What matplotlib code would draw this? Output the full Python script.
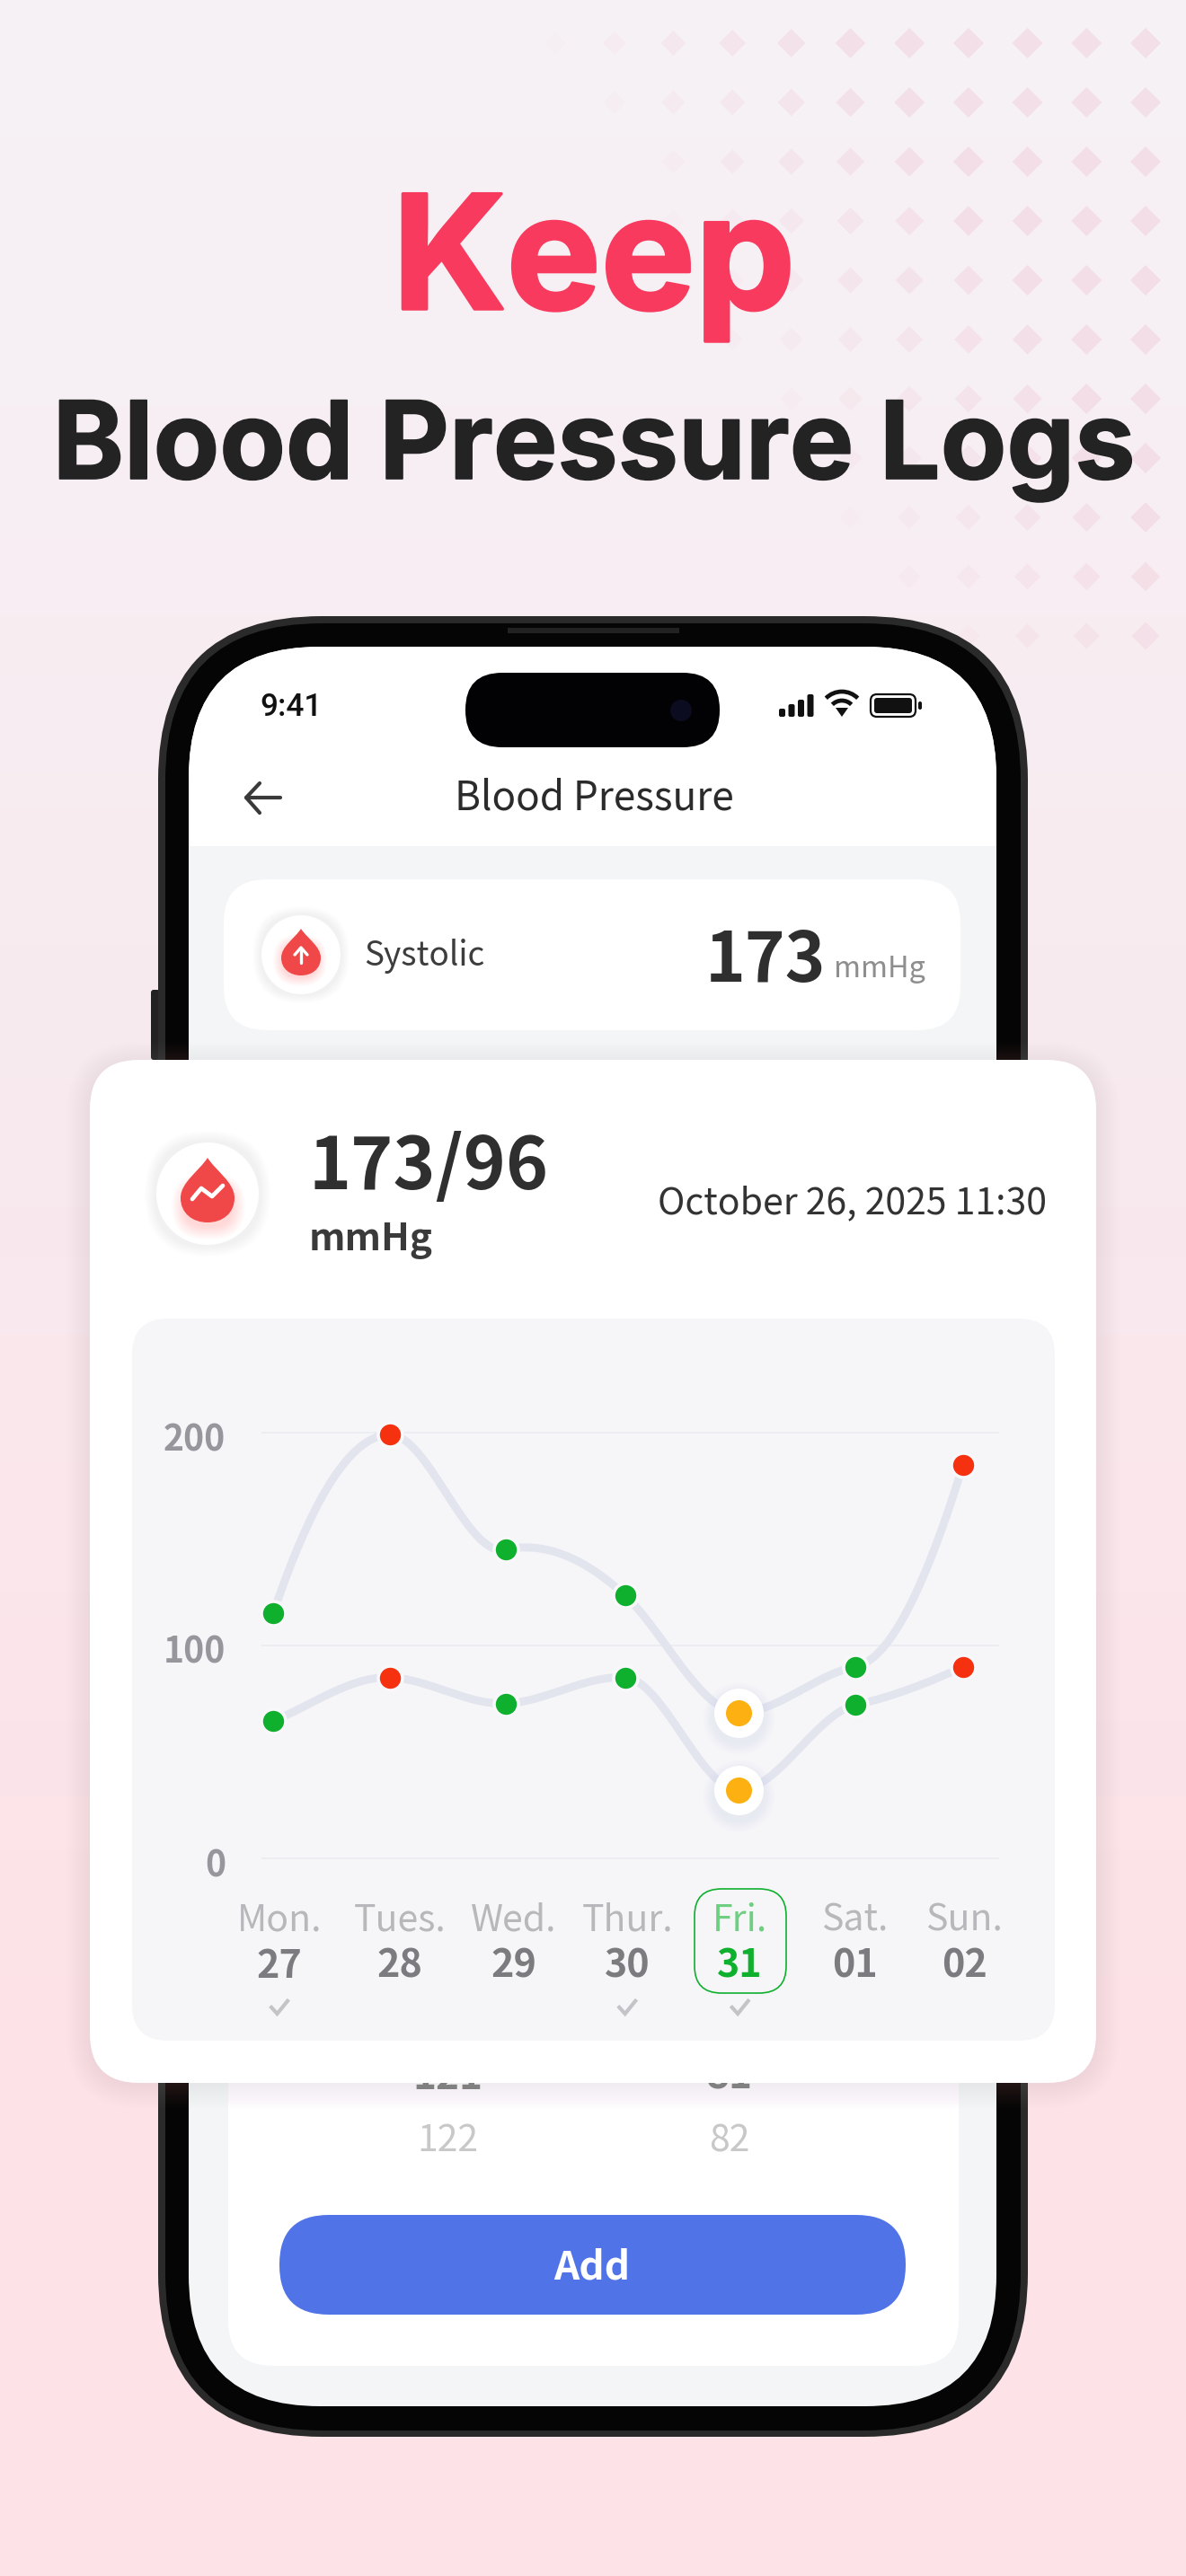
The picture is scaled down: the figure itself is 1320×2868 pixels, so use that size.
import numpy as np
import matplotlib
matplotlib.use('Agg')
import matplotlib.pyplot as plt
from matplotlib.patches import FancyBboxPatch, Circle, PathPatch, Polygon, Rectangle, Arc
from matplotlib.path import Path
from matplotlib.transforms import ScaledTranslation
import matplotlib.patheffects as pe

# Chart data
day_names = ['Mon.', 'Tues.', 'Wed.', 'Thur.', 'Fri.', 'Sat.', 'Sun.']
day_numbers = ['27', '28', '29', '30', '31', '01', '02']
checked_days = ['27', '30', '31']
point_x = [0, 1.016, 2.02, 3.06, 4.05, 5.06, 6]
systolic = [115, 199, 145, 123.5, 68.5, 90, 185]
diastolic = [64.5, 85, 72.7, 85, 32, 72, 90]
systolic_colors = ['green', 'red', 'green', 'green', 'orange', 'green', 'red']
diastolic_colors = ['green', 'red', 'green', 'green', 'orange', 'green', 'red']
# slope of the curve as it passes each point
systolic_slopes = [160, 0, 12, -50, 0, 10, 175]
diastolic_slopes = [22, -2, 2, -3, 0, 12, 25]
y_ticks = [0, 100, 200]

colors = {'green': '#0fb02d', 'red': '#f5310f', 'orange': '#fdb012'}
W, H = 1320, 2868
CJK = ['Noto Sans CJK SC', 'DejaVu Sans']
TITLE = ['Inter', 'Lato', 'DejaVu Sans']


def fs(px):
    # pixel em size to points at dpi 100
    return px * 0.72


def rbox(ax, x, y, w, h, r, color, z=1, **kw):
    p = FancyBboxPatch((x, y), w, h, boxstyle=f'round,pad=0,rounding_size={r}', fc=color, ec='none', zorder=z, **kw)
    ax.add_patch(p)
    return p


def shadow(ax, x, y, w, h, r, color, spread, alpha, z):
    # soft shadow out of stacked see-through boxes
    for s in np.linspace(spread, 1, 14):
        rbox(ax, x - s, y - s, w + 2 * s, h + 2 * s, r + s, color, z=z, alpha=alpha)


def drop(ax, cx, top, w, h, color, z):
    b = top + h
    rw = w / 2
    verts = [(cx, top),
             (cx + rw * 0.3, top + h * 0.2), (cx + rw, top + h * 0.38), (cx + rw, top + h * 0.62),
             (cx + rw, top + h * 0.86), (cx + rw * 0.55, b), (cx, b),
             (cx - rw * 0.55, b), (cx - rw, top + h * 0.86), (cx - rw, top + h * 0.62),
             (cx - rw, top + h * 0.38), (cx - rw * 0.3, top + h * 0.2), (cx, top), (cx, top)]
    codes = [Path.MOVETO] + [Path.CURVE4] * 12 + [Path.CLOSEPOLY]
    ax.add_patch(PathPatch(Path(verts, codes), fc=color, ec='none', zorder=z))


def smooth(x, y, slopes, n=40):
    # cubic hermite through the read points
    xs, ys = [], []
    for i in range(len(x) - 1):
        d = x[i + 1] - x[i]
        t = np.linspace(0, 1, n)
        a = 2 * t**3 - 3 * t**2 + 1
        b = t**3 - 2 * t**2 + t
        c = -2 * t**3 + 3 * t**2
        e = t**3 - t**2
        xs.append(x[i] + t * d)
        ys.append(a * y[i] + b * d * slopes[i] + c * y[i + 1] + e * d * slopes[i + 1])
    return np.concatenate(xs), np.concatenate(ys)


fig = plt.figure(figsize=(W / 100, H / 100), dpi=100)
ui = fig.add_axes([0, 0, 1, 1], zorder=0)
ui.set_xlim(0, W)
ui.set_ylim(H, 0)
ui.axis('off')

# Step 1: background gradient
rows = np.arange(H)
stops = [0, 1200, 2200, H]
grad = np.zeros((H, 1, 3))
for k in range(3):
    grad[:, 0, k] = np.interp(rows, stops, [[246, 248, 253, 253], [242, 234, 227, 227], [246, 239, 232, 232]][k]) / 255
ui.imshow(grad, extent=[0, W, H, 0], aspect='auto', zorder=0)

# diamond pattern top right
for r in range(11):
    for c in range(11):
        fade = np.clip((c + 0.2 - r * 0.62) / 5.5, 0, 1)
        if fade <= 0:
            continue
        cx, cy = 618 + c * 65.7, 48 + r * 66
        s = 12 + 5 * fade
        ui.add_patch(Polygon([(cx, cy - s), (cx + s, cy), (cx, cy + s), (cx - s, cy)], fc='#f0c4d4', ec='none', alpha=0.04 + 0.36 * fade, zorder=1))

# Step 2: headline
ui.text(661, 344, 'Keep', color='#f83a5e', ha='center', va='baseline', family=TITLE, weight='bold', fontsize=127, zorder=3,
        path_effects=[pe.withStroke(linewidth=2.5, foreground='#f83a5e')])
ui.text(661, 533, 'Blood Pressure Logs', color='#232323', ha='center', va='baseline', family=TITLE, weight='bold', fontsize=86.5, zorder=3,
        path_effects=[pe.withStroke(linewidth=1.2, foreground='#232323')])

# Step 3: phone body
rbox(ui, 168, 1102, 10, 78, 3, '#222222', z=2)
rbox(ui, 176, 686, 968, 2027, 182, '#2a2a2a', z=2)
rbox(ui, 184, 694, 952, 2012, 174, '#050505', z=2)
rbox(ui, 210, 720, 899, 1959, 146, '#f3f5f6', z=2)
# white top of the screen
head = FancyBboxPatch((210, 720), 899, 400, boxstyle='round,pad=0,rounding_size=146', fc='white', ec='none', zorder=2.1)
ui.add_patch(head)
ui.add_patch(Rectangle((210, 942), 899, 240, fc='#f3f5f6', ec='none', zorder=2.2))
ui.add_patch(Rectangle((565, 699), 191, 6, fc='#222222', ec='none', zorder=2.2))

# island and status bar
rbox(ui, 518, 749, 283, 83, 41, '#020204', z=3)
ui.add_patch(Circle((758, 791), 12, fc='#0c0c20', ec='none', zorder=3.1))
ui.text(289, 797, '9:41', color='#111111', ha='left', va='baseline', family='Roboto', weight='medium', fontsize=fs(35), zorder=3)
for i, bh in enumerate([9, 14, 19, 25]):
    rbox(ui, 867 + i * 10.5, 798 - bh, 7, bh, 2, '#111111', z=3)
for rad in [15, 25]:
    ui.add_patch(Arc((937, 795), rad * 2, rad * 2, theta1=225, theta2=315, ec='#111111', lw=3.4, zorder=3))
ui.add_patch(Polygon([(930, 788), (944, 788), (937, 798)], fc='#111111', ec='none', zorder=3))
p = rbox(ui, 969, 773, 50, 25, 7, 'none', z=3)
p.set_edgecolor('#111111')
p.set_linewidth(1.6)
rbox(ui, 973, 777, 42, 17, 3, '#111111', z=3)
rbox(ui, 1022, 781, 4, 9, 2, '#111111', z=3)

# header
ui.plot([274, 312], [888, 888], color='#3a3a3a', lw=3, solid_capstyle='round', zorder=3)
ui.plot([289, 274, 289], [872, 888, 905], color='#3a3a3a', lw=3, solid_capstyle='round', solid_joinstyle='round', zorder=3)
ui.text(661, 902, 'Blood Pressure', color='#2b2b2b', ha='center', va='baseline', family=CJK, fontsize=fs(44), zorder=3)

# systolic card
rbox(ui, 249, 979, 820, 168, 48, 'white', z=3)
shadow(ui, 291, 1019, 88, 88, 44, '#f0d8d8', 10, 0.012, 3.1)
ui.add_patch(Circle((335, 1063), 44, fc='white', ec='none', zorder=3.2))
shadow(ui, 316, 1052, 36, 34, 17, '#ff8a8a', 12, 0.025, 3.3)
drop(ui, 335, 1034, 44, 52, '#f04848', 3.4)
ui.plot([335, 335], [1072, 1057], color='white', lw=2.4, solid_capstyle='round', zorder=3.5)
ui.plot([328, 335, 342], [1063, 1055, 1063], color='white', lw=2.4, solid_capstyle='round', zorder=3.5)
ui.text(405, 1075, 'Systolic', color='#3d3d3d', ha='left', va='baseline', family=CJK, fontsize=fs(37), zorder=3.5)
ui.text(919, 1093, '173', color='#2f2f2f', ha='right', va='baseline', family=CJK, weight='bold', fontsize=fs(76), zorder=3.5)
ui.text(928, 1088, 'mmHg', color='#8e8e8e', ha='left', va='baseline', family=CJK, fontsize=fs(32.5), zorder=3.5)

# lower panel, its numbers run under the big card
rbox(ui, 254, 2000, 813, 634, 50, 'white', z=2.3)
ui.text(498, 2326, '121', color='#808080', ha='center', va='baseline', family=CJK, weight='bold', fontsize=fs(44), zorder=2.4)
ui.text(812, 2326, '81', color='#808080', ha='center', va='baseline', family=CJK, weight='bold', fontsize=fs(44), zorder=2.4)
ui.text(498, 2395, '122', color='#c8c8c8', ha='center', va='baseline', family=CJK, fontsize=fs(41), zorder=2.4)
ui.text(812, 2395, '82', color='#c8c8c8', ha='center', va='baseline', family=CJK, fontsize=fs(41), zorder=2.4)
rbox(ui, 311, 2466, 697, 111, 55, '#5074e8', z=2.4)
ui.text(659, 2537, 'Add', color='white', ha='center', va='baseline', family=CJK, weight='bold', fontsize=fs(44), zorder=2.5)

# Step 4: big floating card
shadow(ui, 100, 1186, 1120, 1135, 55, '#c9a0ab', 26, 0.011, 4)
rbox(ui, 100, 1180, 1120, 1139, 55, 'white', z=4.1)
shadow(ui, 173, 1271, 116, 116, 58, '#f0d8d8', 12, 0.012, 4.2)
ui.add_patch(Circle((231, 1329), 57, fc='white', ec='none', zorder=4.3))
shadow(ui, 207, 1322, 50, 42, 21, '#ff8a8a', 16, 0.022, 4.4)
drop(ui, 231, 1289, 60, 72, '#f04848', 4.5)
ui.plot([214, 224, 236, 248], [1335, 1323, 1332, 1320], color='white', lw=3.4, solid_capstyle='round', solid_joinstyle='round', zorder=4.6)
ui.text(344, 1324, '173/96', color='#2f2f2f', ha='left', va='baseline', family=CJK, weight='bold', fontsize=fs(80), zorder=4.6)
ui.text(344, 1392, 'mmHg', color='#3a3a3a', ha='left', va='baseline', family=CJK, weight='bold', fontsize=fs(42), zorder=4.6)
ui.text(1165, 1351, 'October 26, 2025 11:30', color='#333333', ha='right', va='baseline', family=CJK, fontsize=fs(41), zorder=4.6)
rbox(ui, 147, 1468, 1027, 804, 40, '#f6f6f9', z=4.5)

# Step 5: the chart itself
x0, xpx = 304, 128
y0, ypx = 2069, 474 / 200
left, right = 292, 1111
ax = fig.add_axes([left / W, 1 - y0 / H, (right - left) / W, (y0 - 1595) / H], zorder=2)
ax.set_xlim((left - x0) / xpx, (right - x0) / xpx)
ax.set_ylim(0, 200)
ax.patch.set_alpha(0)
for s in ax.spines.values():
    s.set_visible(False)
ax.set_yticks(y_ticks)
ax.set_yticklabels([str(v) for v in y_ticks], family=CJK, fontsize=fs(39), color='#96969c', weight='bold')
ax.tick_params(axis='y', length=0, pad=(left - 251) * 0.72)
for lab in ax.get_yticklabels():
    lab.set_transform(lab.get_transform() + ScaledTranslation(0, -4 / 100, fig.dpi_scale_trans))
ax.set_xticks([])
ax.grid(axis='y', color='#ebedf2', lw=1.4, clip_on=False)
ax.set_axisbelow(True)
for sp in ax.yaxis.get_gridlines():
    sp.set_clip_on(False)

for vals, slopes, cols in [(systolic, systolic_slopes, systolic_colors), (diastolic, diastolic_slopes, diastolic_colors)]:
    sx, sy = smooth(point_x, vals, slopes)
    ax.plot(sx, sy, color='#e2e4ee', lw=6.4, clip_on=False, zorder=3, solid_capstyle='round')
    for xv, yv, c in zip(point_x, vals, cols):
        if c == 'orange':
            # picked day gets a white halo with soft shadow
            for ms, al in zip(np.linspace(80, 56, 8), [0.03] * 8):
                ax.plot(xv, yv - 2.5, 'o', ms=ms * 0.72, color='#c9d0f0', alpha=al, mew=0, clip_on=False, zorder=4)
            ax.plot(xv, yv, 'o', ms=55 * 0.72, color='white', mew=0, clip_on=False, zorder=5)
            ax.plot(xv, yv, 'o', ms=29 * 0.72, color=colors[c], mew=0, clip_on=False, zorder=6)
        else:
            ax.plot(xv, yv, 'o', ms=27 * 0.72, color=colors[c], mec='#f8f8fb', mew=2.6, clip_on=False, zorder=6)

# day labels below the axis
label_x = [0.055, 1.10, 2.09, 3.08, 4.06, 5.06, 6.01]
for xv, name, num in zip(label_x, day_names, day_numbers):
    picked = num == '31'
    ax.annotate(name, xy=(xv, 0), xytext=(0, -80.5 * 0.72), textcoords='offset points', ha='center', va='baseline',
                family=CJK, fontsize=fs(41), color='#6fcf80' if picked else '#b8b8bc', annotation_clip=False)
    ax.annotate(num, xy=(xv, 0), xytext=(0, -133 * 0.72), textcoords='offset points', ha='center', va='baseline',
                family=CJK, fontsize=fs(43), weight='bold', color=colors['green'] if picked else '#7c7c80', annotation_clip=False)
    if num in checked_days:
        ax.plot([xv - 0.07, xv - 0.02, xv + 0.07], [-70, -73, -67], color='#c4c4c8', lw=3, clip_on=False, solid_joinstyle='miter')

# box round the picked day
sel = FancyBboxPatch((773, 2103), 102, 116, boxstyle='round,pad=0,rounding_size=30', fc='none', ec=colors['green'], lw=1.2, zorder=5)
ui.add_patch(sel)

fig.savefig('out.png', dpi=100)
